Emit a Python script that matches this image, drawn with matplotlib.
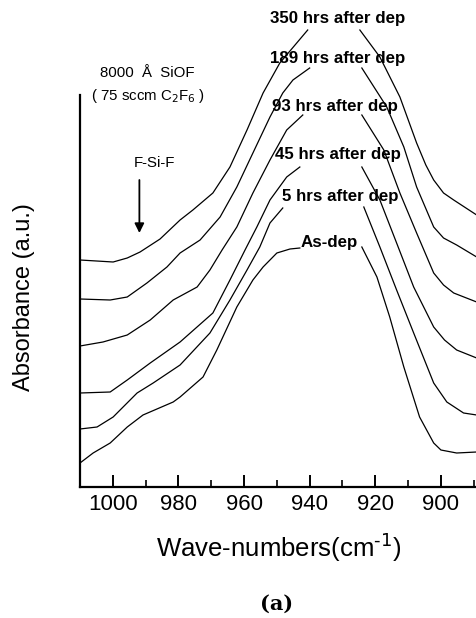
import numpy as np
import matplotlib.pyplot as plt
from matplotlib.ticker import MultipleLocator

plt.rcParams['font.family'] = ['Liberation Sans', 'DejaVu Sans']

nan = np.nan

# IR spectra of the Si-F band, offset vertically; NaN marks the break under each label
wn_350 = [1010, 999.9, 995.6, 991.7, 985.6, 979.5, 975.6, 969.5, 964.3, 959.1, 954.2,
          949.1, 940.6, 932.3, 924.7, 918.6, 912.5, 907.4, 904.6, 902.2, 899.2, 896.1, 889.1]
ab_350 = [2.27, 2.25, 2.29, 2.35, 2.48, 2.67, 2.77, 2.94, 3.20, 3.57, 3.94,
          4.24, 4.57, nan, 4.57, 4.30, 3.90, 3.44, 3.22, 3.07, 2.94, 2.87, 2.72]

wn_189 = [1010, 1000.8, 995.6, 989.6, 983.5, 979.5, 973.4, 967.3, 962.2, 957.3, 952.1,
          948.2, 945.1, 940.0, 932.0, 924.1, 916.5, 911.3, 907.4, 902.2, 899.2, 895.2, 889.1]
ab_189 = [1.88, 1.87, 1.90, 2.04, 2.20, 2.34, 2.47, 2.70, 3.00, 3.34, 3.70,
          3.94, 4.07, 4.19, nan, 4.19, 3.80, 3.40, 3.00, 2.60, 2.49, 2.42, 2.30]

wn_93 = [1010, 1003.0, 995.6, 988.6, 981.6, 974.3, 970.4, 966.7, 962.2, 957.3, 952.1,
         947.0, 942.1, 933.0, 924.1, 917.4, 912.5, 907.4, 902.2, 899.2, 896.1, 889.1]
ab_93 = [1.41, 1.45, 1.52, 1.67, 1.87, 2.00, 2.17, 2.37, 2.60, 2.94, 3.27,
         3.57, 3.72, nan, 3.72, 3.37, 2.94, 2.54, 2.14, 2.02, 1.94, 1.85]

wn_45 = [1010, 1000.8, 995.6, 988.6, 979.5, 969.5, 964.3, 959.7, 956.1, 952.1, 947.0,
         943.0, 932.3, 924.1, 918.6, 913.5, 908.3, 902.2, 898.9, 895.2, 889.1]
ab_45 = [0.94, 0.95, 1.07, 1.24, 1.45, 1.74, 2.07, 2.37, 2.60, 2.87, 3.10,
         3.20, nan, 3.20, 2.87, 2.44, 2.00, 1.60, 1.47, 1.37, 1.29]

wn_5 = [1010, 1004.8, 999.9, 992.6, 987.7, 979.5, 970.4, 964.3, 959.1, 955.2, 952.1,
        948.2, 930.8, 923.5, 918.6, 913.5, 908.3, 902.2, 898.2, 893.1, 889.1]
ab_5 = [0.58, 0.60, 0.70, 0.94, 1.04, 1.22, 1.54, 1.87, 2.17, 2.40, 2.64,
        2.79, nan, 2.80, 2.40, 1.97, 1.54, 1.04, 0.85, 0.74, 0.72]

wn_asdep = [1010, 1006.0, 1000.8, 995.6, 990.8, 981.6, 979.5, 972.5, 968.3, 962.2, 957.3,
            954.2, 950.0, 946.0, 943.0, 933.0, 924.1, 919.5, 915.6, 911.3, 906.5, 902.2,
            900.0, 895.2, 889.1]
ab_asdep = [0.24, 0.34, 0.44, 0.60, 0.72, 0.85, 0.90, 1.10, 1.37, 1.80, 2.07,
            2.20, 2.34, 2.38, 2.39, nan, 2.40, 2.10, 1.70, 1.20, 0.70, 0.44,
            0.37, 0.34, 0.35]

labels = ['350 hrs after dep', '189 hrs after dep', '93 hrs after dep',
          '45 hrs after dep', '5 hrs after dep', 'As-dep']
label_x = [931.6, 931.4, 932.3, 931.4, 930.8, 934.1]
label_y = [4.69, 4.29, 3.80, 3.32, 2.90, 2.44]

spectra = [(wn_350, ab_350), (wn_189, ab_189), (wn_93, ab_93),
           (wn_45, ab_45), (wn_5, ab_5), (wn_asdep, ab_asdep)]

fig = plt.figure(figsize=(4.77, 6.18), dpi=100)
ax = fig.add_axes([80 / 477, 131 / 618, 397 / 477, 487 / 618])

for wn, ab in spectra:
    ax.plot(wn, ab, color='black', lw=0.9)

for txt, x, y in zip(labels, label_x, label_y):
    ax.text(x, y, txt, ha='center', va='center', fontsize=12.2, fontweight='bold')

ax.text(989.5, 4.14, '8000  Å  SiOF', ha='center', va='center', fontsize=10.8)
ax.text(989.4, 3.91, '( 75 sccm C$_2$F$_6$ )', ha='center', va='center', fontsize=10.8)
ax.text(987.4, 3.24, 'F-Si-F', ha='center', va='center', fontsize=10.8)
ax.annotate('', xy=(991.9, 2.54), xytext=(991.9, 3.07),
            arrowprops=dict(arrowstyle='-|>', color='black', lw=1.3,
                            mutation_scale=14, shrinkA=0, shrinkB=0))

ax.set_xlim(1010, 889)
ax.set_ylim(0, 4.87)
ax.spines['top'].set_visible(False)
ax.spines['right'].set_visible(False)
ax.spines['left'].set_bounds(0, 3.92)
ax.spines['left'].set_linewidth(1.6)
ax.spines['bottom'].set_linewidth(1.6)
ax.set_yticks([])

ax.xaxis.set_major_locator(MultipleLocator(20))
ax.xaxis.set_minor_locator(MultipleLocator(10))
ax.tick_params(axis='x', which='major', direction='in', length=9, width=1.4,
               labelsize=16, pad=5)
ax.tick_params(axis='x', which='minor', direction='in', length=5, width=1.2)

ax.set_xlabel(r'Wave-numbers(cm$^{\text{-}1}$)', fontsize=18.5, labelpad=11)
fig.text(24 / 477, 1 - 297 / 618, 'Absorbance (a.u.)', rotation=90,
         ha='center', va='center', fontsize=17)
fig.text(277 / 477, 1 - 604 / 618, '(a)', ha='center', va='center',
         fontsize=15, fontweight='bold', family='DejaVu Serif')

fig.savefig('out.png', dpi=100)
